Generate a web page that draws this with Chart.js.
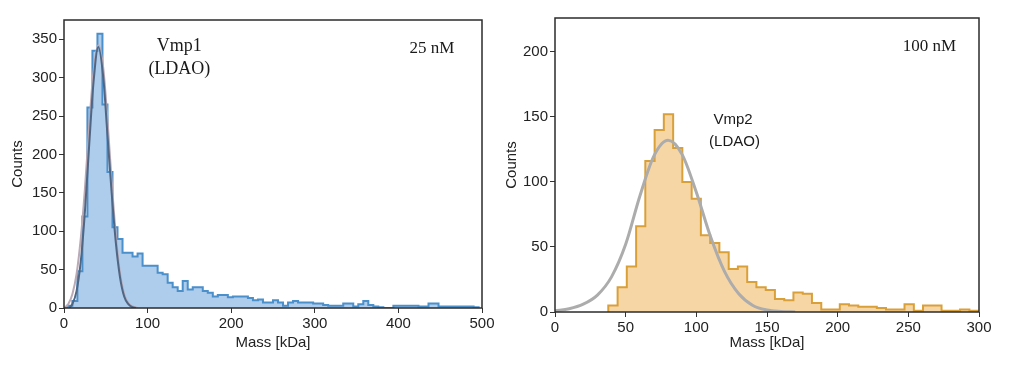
<!DOCTYPE html>
<html>
<head>
<meta charset="utf-8">
<script src="https://cdn.jsdelivr.net/npm/chart.js@4.4.1/dist/chart.umd.min.js"></script>
<style>
  html, body { margin: 0; padding: 0; background: #ffffff; }
  body { width: 1024px; height: 369px; position: relative; overflow: hidden; }
  canvas { position: absolute; top: 0; }
  #c1 { left: 0; }
  #c2 { left: 500px; }
</style>
</head>
<body>
<canvas id="c1" width="500" height="369"></canvas>
<canvas id="c2" width="524" height="369"></canvas>
<script>
// ---------- Left panel: Vmp1 (LDAO), 25 nM ----------
const vmp1BinEdges = [4,10,16,22,28,34,40,46,52,58,64,70,76,82,88,94,100,106,112,118,124,130,136,142,148,154,160,166,172,178,184,190,196,202,208,214,220,226,232,238,244,250,256,262,268,274,280,286,292,298,304,310,316,322,328,334,340,346,352,358,364,370,376,382,388,394,400,406,412,418,424,430,436,442,448,454,460,466,472,478,484,490,496];
const vmp1Counts = [3,9,48,119,261,335,357,265,177,105,90,72,72,67,71,55,55,55,46,44,33,27,22,35,24,27,27,22,20,15,17,17,14,15,15,15,13,10,11,7,7,10,7,3,7,9,7,7,7,6,6,4,3,3,3,6,6,2,5,9,4,2,1,0,0,3,3,3,3,3,2,2,6,6,2,2,2,2,2,2,2,1];
const vmp1FitX = [6,10,15,20,25,30,35,41,47,52,57,62,67,72,77,82,86];
const vmp1FitY = [0,5,22,60,125,210,290,340,300,225,150,85,40,15,5,1,0];
const vmp1FitX2 = [0,5,10,15,20,25,30,35,41,47,52,57,62,67,72,77,82,88];
const vmp1FitY2 = [0,5,18,44,90,155,235,305,342,312,245,165,95,45,18,6,2,0];
const vmp1XTicks = [0,100,200,300,400,500];
const vmp1YTicks = [0,50,100,150,200,250,300,350];

// ---------- Right panel: Vmp2 (LDAO), 100 nM ----------
const vmp2BinEdges = [37.7,44.3,50.8,57.4,63.9,70.5,77.0,83.6,90.1,96.7,103.2,109.8,116.3,122.9,129.4,136.0,142.5,149.1,155.6,162.2,168.7,175.3,181.8,188.4,194.9,201.5,208.0,214.6,221.1,227.7,234.2,240.8,247.3,253.9,260.4,267.0,273.5,280.1,286.6,293.2,299.7];
const vmp2Counts = [5,19,35,66,116,140,152,126,100,87,59,53,46,33,35,23,19,17,10,9,15,14,7,2,2,6,5,4,4,3,2,2,6,1,5,5,1,1,2,1];
const vmp2FitX = [0,10,20,30,40,50,60,70,80,90,100,110,120,130,140,150,160,170];
const vmp2FitY = [1,2.5,6,13,27,52,89,120,132,121,92,58,31,14,5,1.5,0.4,0];
const vmp2XTicks = [0,50,100,150,200,250,300];
const vmp2YTicks = [0,50,100,150,200];

function histPoints(edges, counts) {
  const pts = [{x: edges[0], y: 0}];
  for (let i = 0; i < counts.length; i++) pts.push({x: edges[i], y: counts[i]});
  pts.push({x: edges[edges.length - 1], y: 0});
  return pts;
}
function xyPoints(xs, ys) { return xs.map((x, i) => ({x: x, y: ys[i]})); }

const SANS = '"Liberation Sans", Arial, sans-serif';
const SERIF = '"Liberation Serif", "Times New Roman", serif';

const framePlugin = {
  id: 'frame',
  afterDatasetsDraw(chart) {
    const a = chart.chartArea, ctx = chart.ctx;
    ctx.save();
    ctx.strokeStyle = '#2b2b2b';
    ctx.lineWidth = 1.5;
    ctx.strokeRect(a.left, a.top, a.right - a.left, a.bottom - a.top);
    ctx.restore();
  }
};

function textPlugin(items) {
  return {
    id: 'labels',
    afterDraw(chart) {
      const ctx = chart.ctx, xs = chart.scales.x, ys = chart.scales.y;
      ctx.save();
      ctx.textAlign = 'center';
      ctx.textBaseline = 'middle';
      items.forEach(t => {
        ctx.font = t.font;
        ctx.fillStyle = '#1a1a1a';
        ctx.fillText(t.text, xs.getPixelForValue(t.x), ys.getPixelForValue(t.y));
      });
      ctx.restore();
    }
  };
}

function makeChart(id, cfg) {
  const tickFont = {family: SANS, size: 15};
  return new Chart(document.getElementById(id), {
    type: 'line',
    data: {datasets: cfg.datasets},
    options: {
      responsive: false,
      animation: false,
      layout: {padding: cfg.padding},
      plugins: {legend: {display: false}, tooltip: {enabled: false}},
      elements: {point: {radius: 0}},
      scales: {
        x: {
          type: 'linear', min: cfg.xMin, max: cfg.xMax,
          afterBuildTicks: s => { s.ticks = cfg.xTicks.map(v => ({value: v})); },
          ticks: {font: tickFont, color: '#222', padding: 2, maxRotation: 0},
          grid: {display: true, drawOnChartArea: false, drawTicks: true, tickLength: 5, color: '#333', lineWidth: 1},
          border: {display: false},
          title: {display: true, text: 'Mass [kDa]', font: {family: SANS, size: 15}, color: '#222', padding: {top: 0, bottom: cfg.xTitlePad}},
          afterFit: s => { s.height = cfg.xAxisH; }
        },
        y: {
          type: 'linear', min: 0, max: cfg.yMax,
          afterBuildTicks: s => { s.ticks = cfg.yTicks.map(v => ({value: v})); },
          ticks: {font: tickFont, color: '#222', padding: 2},
          grid: {display: true, drawOnChartArea: false, drawTicks: true, tickLength: 5, color: '#333', lineWidth: 1},
          border: {display: false},
          title: {display: true, text: 'Counts', font: {family: SANS, size: 15}, color: '#222', padding: {top: cfg.yTitlePad, bottom: 0}},
          afterFit: s => { s.width = cfg.yAxisW; }
        }
      }
    },
    plugins: [framePlugin, textPlugin(cfg.texts)]
  });
}

makeChart('c1', {
  padding: {left: 0, top: 20, right: 18, bottom: 0},
  xMin: 0, xMax: 500, yMax: 375,
  xTicks: vmp1XTicks, yTicks: vmp1YTicks,
  xAxisH: 61, yAxisW: 64, xTitlePad: 17, yTitlePad: 9,
  datasets: [
    {data: xyPoints(vmp1FitX2, vmp1FitY2), borderColor: '#b9aab6', borderWidth: 2, fill: false, tension: 0.4, cubicInterpolationMode: 'monotone', order: 1},
    {data: xyPoints(vmp1FitX, vmp1FitY), borderColor: '#4f6785', borderWidth: 2, fill: false, tension: 0.4, cubicInterpolationMode: 'monotone', order: 0},
    {data: histPoints(vmp1BinEdges, vmp1Counts), stepped: 'before', borderColor: '#4b8fcb', borderWidth: 2, backgroundColor: 'rgba(120,170,222,0.6)', fill: 'origin', order: 2}
  ],
  texts: [
    {text: 'Vmp1', x: 138, y: 341, font: '18px ' + SERIF},
    {text: '(LDAO)', x: 138, y: 311, font: '18px ' + SERIF},
    {text: '25 nM', x: 440, y: 338, font: '17px ' + SERIF}
  ]
});

makeChart('c2', {
  padding: {left: 0, top: 18, right: 45, bottom: 0},
  xMin: 0, xMax: 300, yMax: 226,
  xTicks: vmp2XTicks, yTicks: vmp2YTicks,
  xAxisH: 57, yAxisW: 55, xTitlePad: 17, yTitlePad: 3,
  datasets: [
    {data: xyPoints(vmp2FitX, vmp2FitY), borderColor: '#acacac', borderWidth: 3, fill: false, tension: 0.4, cubicInterpolationMode: 'monotone', order: 0},
    {data: histPoints(vmp2BinEdges, vmp2Counts), stepped: 'before', borderColor: '#d9a03a', borderWidth: 2, backgroundColor: 'rgba(243,196,128,0.7)', fill: 'origin', order: 1}
  ],
  texts: [
    {text: 'Vmp2', x: 126, y: 148, font: '15px ' + SANS},
    {text: '(LDAO)', x: 127, y: 131, font: '15px ' + SANS},
    {text: '100 nM', x: 265, y: 204, font: '17px ' + SERIF}
  ]
});
</script>
</body>
</html>
